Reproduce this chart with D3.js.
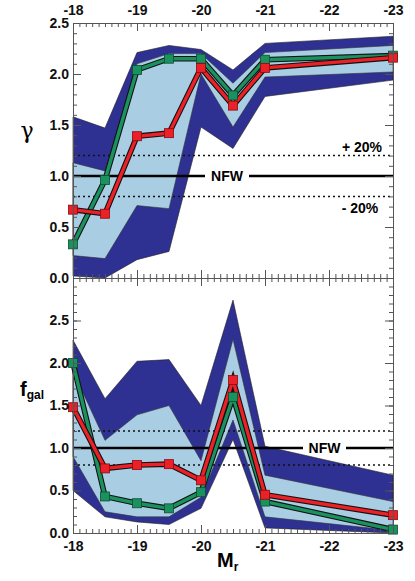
<!DOCTYPE html>
<html lang="en">
<head>
    <meta charset="UTF-8">
    <title>gamma and f_gal vs M_r</title>
    <script src="https://d3js.org/d3.v7.min.js"></script>
    <style>
        body {
            margin: 0;
            background: white;
        }
        svg {
            display: block;
            font-family: "Liberation Sans", Arial, sans-serif;
        }
        .axis text {
            font-size: 14px;
            font-weight: bold;
            fill: #111;
        }
        .axis path, .axis line {
            stroke: #555;
        }
    </style>
</head>
<body>
<script>
    // magnitude bins
    const mags = [-18, -18.5, -19, -19.5, -20, -20.5, -21, -23];

    // top panel: gamma
    const gammaRed   = [0.67, 0.63, 1.39, 1.42, 2.06, 1.69, 2.06, 2.16];
    const gammaGreen = [0.33, 0.96, 2.04, 2.15, 2.15, 1.79, 2.14, 2.18];
    const gammaOuterHi = [1.58, 1.47, 2.21, 2.28, 2.24, 2.04, 2.30, 2.37];
    const gammaOuterLo = [0.02, 0.00, 0.18, 0.26, 1.48, 1.27, 1.78, 1.94];
    const gammaInnerHi = [1.13, 1.05, 2.10, 2.20, 2.20, 1.91, 2.21, 2.28];
    const gammaInnerLo = [0.22, 0.19, 0.71, 0.68, 2.00, 1.48, 1.97, 2.02];

    // bottom panel: f_gal
    const fgalRed   = [1.48, 0.76, 0.80, 0.81, 0.62, 1.80, 0.45, 0.21];
    const fgalGreen = [2.00, 0.43, 0.35, 0.29, 0.48, 1.60, 0.37, 0.04];
    const fgalOuterHi = [2.27, 1.58, 2.02, 2.04, 1.50, 2.74, 1.02, 0.68];
    const fgalOuterLo = [0.50, 0.19, 0.13, 0.10, 0.29, 1.10, 0.06, 0.00];
    const fgalInnerHi = [1.90, 1.09, 1.39, 1.50, 0.85, 2.28, 0.68, 0.37];
    const fgalInnerLo = [0.90, 0.25, 0.19, 0.19, 0.42, 1.33, 0.19, 0.03];

    // tick labels
    const xTicks = [-18, -19, -20, -21, -22, -23];
    const gammaTicks = [0, 0.5, 1.0, 1.5, 2.0, 2.5];
    const fgalTicks = [0, 0.5, 1.0, 1.5, 2.0, 2.5];

    const width = 415, height = 581;
    const plotLeft = 73, plotRight = 393;
    const plotTop = 23, plotMid = 278, plotBottom = 533;

    const darkBand = "#2e3192";
    const lightBand = "#a9cde3";
    const redCol = "#ec2027";
    const greenCol = "#1b9160";

    const svg = d3.select("body").append("svg")
        .attr("width", width)
        .attr("height", height);

    const x = d3.scaleLinear().domain([-18, -23]).range([plotLeft, plotRight]);
    const yTop = d3.scaleLinear().domain([0, 2.5]).range([plotMid, plotTop]);
    const yBot = d3.scaleLinear().domain([0, 3.0]).range([plotBottom, plotMid]);

    const minorX = d3.range(-180, -231, -1).map(d => d / 10);

    function drawPanel(y, ymax, red, green, outerHi, outerLo, innerHi, innerLo, ticks, nfwGap) {
        const g = svg.append("g");
        const rows = mags.map((m, i) => ({
            m, red: red[i], green: green[i],
            oh: outerHi[i], ol: outerLo[i], ih: innerHi[i], il: innerLo[i]
        }));

        // bands
        g.append("path")
            .datum(rows)
            .attr("d", d3.area().x(d => x(d.m)).y0(d => y(d.ol)).y1(d => y(d.oh)))
            .attr("fill", darkBand)
            .attr("stroke", "#222")
            .attr("stroke-width", 0.6);
        g.append("path")
            .datum(rows)
            .attr("d", d3.area().x(d => x(d.m)).y0(d => y(d.il)).y1(d => y(d.ih)))
            .attr("fill", lightBand)
            .attr("stroke", "#333")
            .attr("stroke-width", 0.6);

        // +-20% dotted lines
        [0.8, 1.2].forEach(v => {
            g.append("line")
                .attr("x1", plotLeft).attr("x2", plotRight)
                .attr("y1", y(v)).attr("y2", y(v))
                .attr("stroke", "#111")
                .attr("stroke-width", 1.5)
                .attr("stroke-dasharray", "2,3");
        });

        // NFW line with a gap for its label
        [[plotLeft, nfwGap[0]], [nfwGap[1], plotRight]].forEach(([a, b]) => {
            g.append("line")
                .attr("x1", a).attr("x2", b)
                .attr("y1", y(1)).attr("y2", y(1))
                .attr("stroke", "#000")
                .attr("stroke-width", 2.6);
        });
        g.append("text")
            .attr("x", (nfwGap[0] + nfwGap[1]) / 2)
            .attr("y", y(1) + 5)
            .attr("text-anchor", "middle")
            .attr("font-size", 14)
            .attr("font-weight", "bold")
            .text("NFW");

        // data lines: black edge then colour
        const series = [["green", greenCol, "#0b4f30"], ["red", redCol, "#8a0a0f"]];
        series.forEach(([key, col]) => {
            const line = d3.line().x(d => x(d.m)).y(d => y(d[key]));
            g.append("path").datum(rows).attr("d", line)
                .attr("fill", "none").attr("stroke", "#111").attr("stroke-width", 5.6);
            g.append("path").datum(rows).attr("d", line)
                .attr("fill", "none").attr("stroke", col).attr("stroke-width", 3.4);
        });
        series.forEach(([key, col, edge]) => {
            g.selectAll(null).data(rows).join("rect")
                .attr("x", d => x(d.m) - 4.5)
                .attr("y", d => y(d[key]) - 4.5)
                .attr("width", 9).attr("height", 9)
                .attr("fill", col)
                .attr("stroke", edge)
                .attr("stroke-width", 0.8);
        });

        // y axes, minor and major ticks pointing inward
        const minorY = d3.range(0, Math.round(ymax * 10) + 1).map(d => d / 10);
        g.append("g").attr("class", "axis").attr("transform", `translate(${plotLeft},0)`)
            .call(d3.axisLeft(y).tickValues(minorY).tickSize(-4).tickFormat(""));
        g.append("g").attr("class", "axis").attr("transform", `translate(${plotLeft},0)`)
            .call(d3.axisLeft(y).tickValues(ticks).tickSize(-8).tickPadding(4).tickFormat(d3.format(".1f")))
            .call(a => a.select(".domain").remove());
        g.append("g").attr("class", "axis").attr("transform", `translate(${plotRight},0)`)
            .call(d3.axisRight(y).tickValues(minorY).tickSize(-4).tickFormat(""));
        g.append("g").attr("class", "axis").attr("transform", `translate(${plotRight},0)`)
            .call(d3.axisRight(y).tickValues(ticks).tickSize(-8).tickFormat(""))
            .call(a => a.select(".domain").remove());
        return g;
    }

    drawPanel(yTop, 2.5, gammaRed, gammaGreen, gammaOuterHi, gammaOuterLo,
        gammaInnerHi, gammaInnerLo, gammaTicks, [205, 249]);
    drawPanel(yBot, 3.0, fgalRed, fgalGreen, fgalOuterHi, fgalOuterLo,
        fgalInnerHi, fgalInnerLo, fgalTicks, [303, 346]);

    // x axes: top, middle (both sides), bottom
    function xAxis(pos, axisFn, labels) {
        svg.append("g").attr("class", "axis").attr("transform", `translate(0,${pos})`)
            .call(axisFn(x).tickValues(minorX).tickSize(-4).tickFormat(""));
        svg.append("g").attr("class", "axis").attr("transform", `translate(0,${pos})`)
            .call(axisFn(x).tickValues(xTicks).tickSize(-8).tickPadding(8)
                .tickFormat(labels ? d3.format("d") : ""))
            .call(a => a.select(".domain").remove());
    }
    xAxis(plotTop, d3.axisTop, true);
    xAxis(plotMid, d3.axisBottom, false);
    xAxis(plotMid, d3.axisTop, false);
    xAxis(plotBottom, d3.axisBottom, true);
    svg.selectAll(".axis text").text(function() { return this.textContent.replace("−", "-"); });

    // axis titles
    svg.append("text")
        .attr("x", 27).attr("y", 138)
        .attr("text-anchor", "middle")
        .attr("font-family", "'DejaVu Serif', 'Liberation Serif', serif")
        .attr("font-size", 22)
        .text("γ");

    const fg = svg.append("text")
        .attr("x", 20).attr("y", 396)
        .attr("font-weight", "bold");
    fg.append("tspan").attr("font-size", 20).text("f");
    fg.append("tspan").attr("font-size", 12).attr("dy", 3).text("gal");

    const mr = svg.append("text")
        .attr("x", 217).attr("y", 567)
        .attr("font-weight", "bold");
    mr.append("tspan").attr("font-size", 20).text("M");
    mr.append("tspan").attr("font-size", 12).attr("dy", 4).text("r");

    // +-20% labels
    svg.append("text").attr("x", 362).attr("y", 152)
        .attr("text-anchor", "middle").attr("font-size", 14).attr("font-weight", "bold")
        .text("+ 20%");
    svg.append("text").attr("x", 360).attr("y", 213)
        .attr("text-anchor", "middle").attr("font-size", 14).attr("font-weight", "bold")
        .text("- 20%");
</script>
</body>
</html>
